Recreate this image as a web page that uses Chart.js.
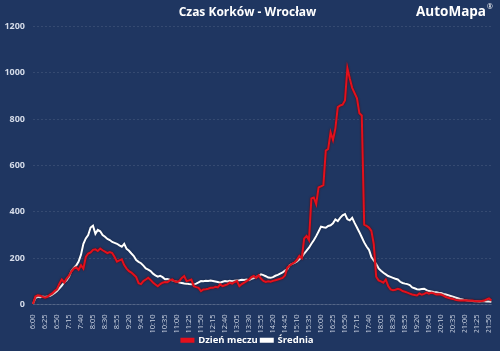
<!DOCTYPE html>
<html><head><meta charset="utf-8">
<script src="https://cdn.jsdelivr.net/npm/chart.js@4.4.1/dist/chart.umd.min.js"></script>
<style>html,body{margin:0;padding:0;background:#1f3661;}canvas{display:block;}</style>
</head><body>
<canvas id="c" width="500" height="351"></canvas>
<script>
// 5-minute slots from 6:00 to 21:55
const categories = [];
for (let h = 6; h <= 21; h++) for (let m = 0; m < 60; m += 5) categories.push(h + ':' + String(m).padStart(2, '0'));

const matchDay = [
2,35,40,38,33,29,33,42,48,58,66,90,108,95,112,125,142,155,160,150,
170,155,205,220,225,236,238,231,241,234,228,222,226,222,205,185,190,195,170,155,
144,138,128,118,92,88,101,108,115,106,95,86,79,88,94,97,96,104,108,100,
97,102,115,123,101,104,108,79,75,72,58,65,66,68,72,72,76,74,87,79,
83,87,94,90,97,101,79,88,94,101,108,118,123,115,126,112,102,97,100,98,
102,105,108,111,115,125,159,168,176,182,193,210,200,285,296,278,458,462,433,505,
510,515,664,671,743,710,760,852,859,862,880,1020,975,935,912,890,825,816,345,339,
332,318,260,120,104,100,94,108,80,65,62,64,68,65,58,55,51,47,43,41,
39,48,42,46,51,47,51,48,43,44,43,38,32,29,26,24,20,18,17,17,
18,17,16,17,15,14,14,15,17,22,26,17];

const average = [
3,28,33,31,34,32,35,37,42,50,58,70,82,95,104,120,145,158,168,185,
215,262,285,300,332,340,305,322,316,300,292,283,278,270,266,262,255,249,262,240,
232,220,209,192,184,178,168,156,150,144,133,126,120,124,118,109,110,107,104,101,
98,95,93,91,90,88,87,86,90,95,101,100,102,101,103,101,99,97,94,98,
101,99,102,100,103,104,105,107,106,108,105,111,114,119,123,130,127,122,116,115,
118,124,128,133,138,146,153,170,175,180,186,195,205,220,232,245,262,277,295,315,
336,333,331,339,342,350,367,360,374,385,390,368,363,374,352,332,312,290,268,250,
236,205,190,175,156,146,137,130,123,119,115,111,108,98,93,90,88,84,74,70,
66,65,67,68,62,58,56,54,53,51,50,46,43,40,37,34,30,27,24,22,
19,17,16,15,14,14,13,14,14,13,13,12];

const yTicks = [0,200,400,600,800,1000,1200];
const seriesNames = ['Dzień meczu', 'Średnia'];
const titleText = 'Czas Korków - Wrocław';

const logoPlugin = {
  id: 'logo',
  afterDraw(chart) {
    const ctx = chart.ctx;
    ctx.save();
    ctx.fillStyle = '#ffffff';
    ctx.font = 'bold 13.5px "Open Sans", Arial, sans-serif';
    ctx.textBaseline = 'alphabetic';
    ctx.textAlign = 'right';
    ctx.fillText('AutoMapa', 486, 16);
    ctx.font = '7px "Open Sans", Arial, sans-serif';
    ctx.textAlign = 'left';
    ctx.fillText('®', 487, 9);
    ctx.restore();
  }
};
const bgPlugin = {
  id: 'bg',
  beforeDraw(chart) {
    const ctx = chart.ctx;
    ctx.save();
    ctx.fillStyle = '#1f3661';
    ctx.fillRect(0, 0, chart.width, chart.height);
    ctx.restore();
  }
};
const shadowPlugin = {
  id: 'shadow',
  beforeDatasetDraw(chart, args) {
    const ctx = chart.ctx;
    ctx.save();
    ctx.shadowColor = args.index === 0 ? 'rgba(90,0,0,0.9)' : 'rgba(0,0,0,0.35)';
    ctx.shadowBlur = 2;
  },
  afterDatasetDraw(chart) { chart.ctx.restore(); }
};

new Chart(document.getElementById('c'), {
  type: 'line',
  data: {
    labels: categories,
    datasets: [
      { label: seriesNames[0], data: matchDay, borderColor: '#e3101c', backgroundColor: '#e3101c', borderWidth: 2, pointRadius: 0, tension: 0 },
      { label: seriesNames[1], data: average, borderColor: '#ffffff', backgroundColor: '#ffffff', borderWidth: 2, pointRadius: 0, tension: 0 }
    ]
  },
  options: {
    responsive: false,
    animation: false,
    layout: { padding: { left: 0, right: 5, top: 0, bottom: -4 } },
    plugins: {
      title: { display: true, text: titleText, color: '#ffffff', font: { size: 12, weight: 'bold', family: '"Open Sans", Arial, sans-serif' }, padding: { top: 5, bottom: 7 } },
      legend: {
        position: 'bottom',
        labels: { color: '#ffffff', font: { size: 9.5, weight: 'bold', family: '"Open Sans", Arial, sans-serif' }, boxWidth: 12, boxHeight: 3, padding: 3 }
      },
      tooltip: { enabled: false }
    },
    scales: {
      x: {
        offset: false,
        grid: { display: false },
        border: { color: 'rgba(255,255,255,0.15)' },
        afterFit: s => { s.height = 28; },
        ticks: {
          autoSkip: false, maxRotation: 90, minRotation: 90, color: '#c9d1e0',
          font: { size: 7.5, family: '"Open Sans", Arial, sans-serif' }, padding: 2,
          callback: function(v, i) { return i % 5 === 0 ? categories[i] : null; }
        }
      },
      y: {
        min: 0, max: 1200,
        afterBuildTicks: s => { s.ticks = yTicks.map(v => ({ value: v })); },
        afterFit: s => { s.width = 33; },
        grid: { color: 'rgba(255,255,255,0.10)', drawTicks: false },
        border: { display: false, dash: [2, 2] },
        ticks: { color: '#d4dbe8', font: { size: 9, weight: 'bold', family: '"Open Sans", Arial, sans-serif' }, padding: 8,
          callback: v => String(v) }
      }
    }
  },
  plugins: [bgPlugin, logoPlugin, shadowPlugin]
});
</script>
</body></html>
